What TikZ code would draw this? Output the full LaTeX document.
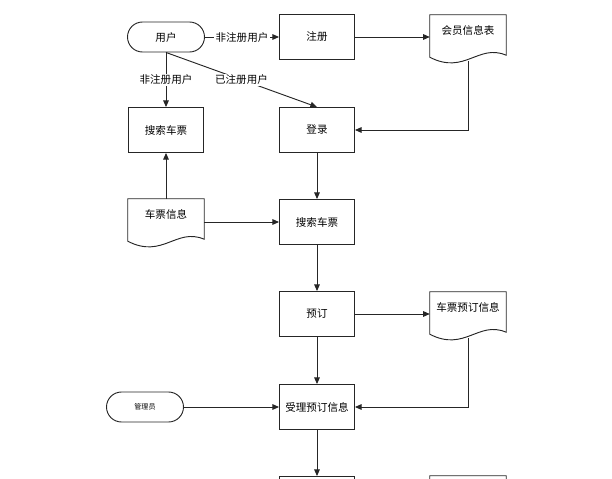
\documentclass[tikz,border=0pt]{standalone}
\usepackage{fontspec}
\setmainfont{Noto Sans CJK SC}
\usetikzlibrary{positioning,calc,arrows.meta}

\tikzset{
  flowbox/.style={draw=black!85, line width=0.8pt, minimum width=2.25cm, minimum height=1.35cm},
  endbox/.style={draw=black!85, line width=0.8pt, rounded corners=0.45cm, minimum width=2.31cm, minimum height=0.9cm},
  docbox/.style={minimum width=2.28cm, minimum height=1.38cm, text depth=0.5cm},
  flow/.style={draw=black!85, line width=0.8pt, -{Triangle[length=2mm,width=1.7mm]}},
  flowlabel/.style={fill=white, inner sep=1pt}
}
\newcommand{\docoutline}[1]{%
  \draw[black!85, line width=0.8pt] (#1.north west) -- (#1.north east)
    -- ($(#1.south east)+(0,-6)$)
    .. controls ($(#1.south east)+(-28,-18)$) and ($(#1.south west)+(35,14)$)
    .. ($(#1.south west)+(0,-4)$) -- cycle;}

\begin{document}
\begin{tikzpicture}[x=0.03cm, y=-0.03cm, font=\fontsize{9}{11}\selectfont]
  \useasboundingbox (0,0) rectangle (612,479);
  \clip (0,0) rectangle (612,479);
  \node[endbox] (user) at (166,37) {用户};
  \node[flowbox] (register) at (317,37) {注册};
  \node[docbox] (memberTable) at (468,38) {会员信息表};
  \docoutline{memberTable}
  \node[flowbox] (searchLeft) at (166,130) {搜索车票};
  \node[flowbox] (login) at (317,130) {登录};
  \node[docbox] (ticketInfo) at (166,222) {车票信息};
  \docoutline{ticketInfo}
  \node[flowbox] (search) at (317,222) {搜索车票};
  \node[flowbox] (book) at (317,314) {预订};
  \node[docbox] (bookInfo) at (468,315) {车票预订信息};
  \docoutline{bookInfo}
  \node[endbox, font=\fontsize{6}{7}\selectfont] (admin) at (145,407) {管理员};
  \node[flowbox] (accept) at (317,407) {受理预订信息};
  \node[flowbox] (nextLeft) at (317,499) {};
  \node[docbox] (nextRight) at (468,499) {};
  \docoutline{nextRight}

  \draw[flow] (user) -- (register) node[midway, flowlabel] {非注册用户};
  \draw[flow] (register) -- (register -| memberTable.west);
  \draw[flow] (user) -- (searchLeft) node[midway, flowlabel] {非注册用户};
  \draw[flow] (user.south) -- (login.north) node[midway, flowlabel] {已注册用户};
  \draw[flow] (memberTable.south) |- (login.east);
  \draw[flow] (ticketInfo.north) -- (searchLeft.south);
  \draw[flow] (ticketInfo -| ticketInfo.east) -- (search);
  \draw[flow] (login) -- (search);
  \draw[flow] (search) -- (book);
  \draw[flow] (book) -- (book -| bookInfo.west);
  \draw[flow] (bookInfo.south) |- (accept.east);
  \draw[flow] (book) -- (accept);
  \draw[flow] (admin) -- (accept);
  \draw[flow] (accept) -- (nextLeft);
\end{tikzpicture}
\end{document}
